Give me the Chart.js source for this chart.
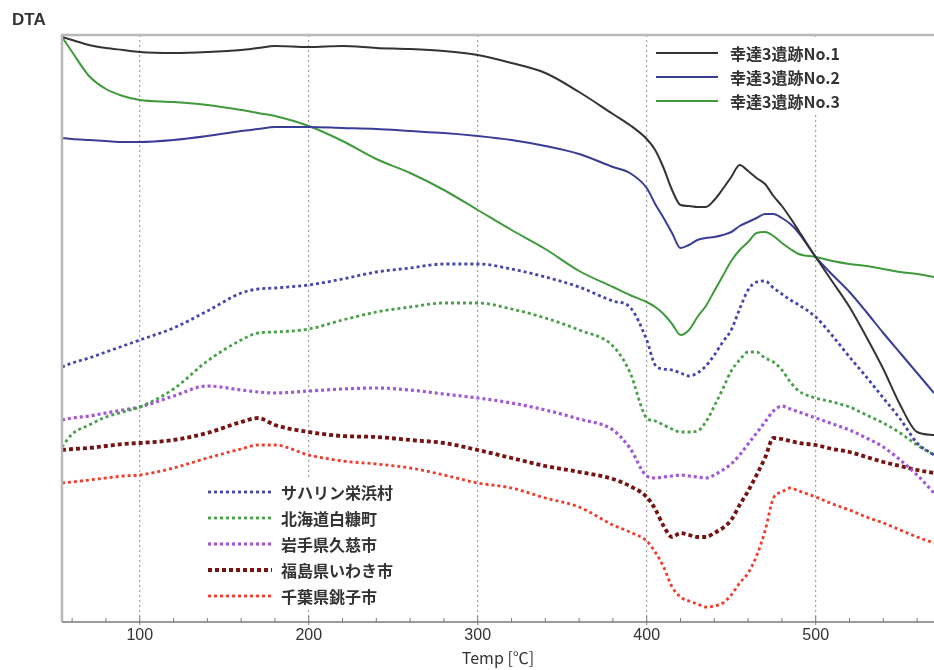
<!DOCTYPE html>
<html>
<head>
<meta charset="utf-8">
<script src="https://cdn.jsdelivr.net/npm/chart.js@4"></script>
<style>
  html, body { margin: 0; padding: 0; background: #fff; }
</style>
</head>
<body>
<canvas id="myChart" width="934" height="670"></canvas>
<script>
// temperature grid (°C)
const temps = [54, 60, 70, 80, 90, 100, 120, 140, 160, 170, 180, 200, 220, 240, 260, 280, 300,
  320, 340, 360, 380, 390, 400, 405, 410, 415, 420, 425, 430, 435, 440, 445, 450, 455, 460,
  465, 470, 475, 480, 485, 490, 500, 510, 520, 530, 540, 550, 560, 570];

// DTA readings (arbitrary units)
const no1 = [58.5, 58.2, 57.7, 57.4, 57.2, 57.0, 56.9, 57.0, 57.2, 57.4, 57.6, 57.5, 57.6, 57.4, 57.3, 57.1, 56.7,
  55.9, 54.9, 53.0, 50.8, 49.7, 48.3, 47.2, 45.4, 43.2, 41.7, 41.6, 41.5, 41.5, 42.2, 43.3, 44.5, 45.7, 45.1,
  44.4, 43.8, 42.6, 41.6, 40.4, 39.1, 36.5, 34.0, 31.5, 28.5, 25.3, 21.7, 19.0, 18.7];
const no2 = [48.4, 48.3, 48.2, 48.1, 48.0, 48.0, 48.2, 48.6, 49.1, 49.3, 49.5, 49.5, 49.4, 49.3, 49.1, 48.9, 48.6,
  48.2, 47.6, 46.8, 45.5, 44.9, 43.4, 41.8, 40.4, 38.9, 37.4, 37.7, 38.2, 38.4, 38.5, 38.7, 39.0, 39.6, 40.0,
  40.4, 40.8, 40.8, 40.4, 39.8, 38.9, 36.5, 34.7, 33.0, 31.0, 28.9, 26.9, 24.9, 22.9];
const no3 = [58.5, 57.0, 54.6, 53.3, 52.6, 52.2, 52.0, 51.7, 51.2, 50.9, 50.6, 49.6, 48.1, 46.3, 44.9, 43.2, 41.2,
  39.2, 37.3, 35.1, 33.5, 32.7, 32.0, 31.5, 30.8, 29.8, 28.7, 29.2, 30.5, 31.6, 33.1, 34.6, 36.1, 37.2, 38.0,
  38.9, 39.0, 38.6, 37.9, 37.3, 36.8, 36.5, 36.1, 35.8, 35.6, 35.3, 35.0, 34.8, 34.5];
const sakhalin = [25.5, 25.9, 26.4, 27.0, 27.6, 28.2, 29.4, 31.1, 32.9, 33.3, 33.4, 33.7, 34.3, 35.0, 35.4, 35.8, 35.8,
  35.3, 34.5, 33.5, 32.1, 31.5, 28.2, 25.7, 25.3, 25.2, 24.9, 24.6, 24.9, 25.6, 26.7, 28.0, 29.2, 31.3, 33.2,
  34.0, 34.1, 33.4, 32.8, 32.2, 31.7, 30.5, 28.6, 26.5, 24.5, 22.4, 20.3, 17.9, 16.7];
const hokkaido = [17.5, 18.8, 19.7, 20.5, 21.0, 21.5, 23.3, 26.1, 28.2, 28.9, 29.0, 29.3, 30.2, 31.0, 31.5, 31.9, 31.9,
  31.3, 30.4, 29.2, 27.6, 25.0, 20.4, 20.1, 19.7, 19.3, 19.0, 19.0, 19.1, 20.0, 21.6, 23.3, 25.1, 26.2, 27.0,
  27.0, 26.4, 26.0, 25.2, 24.0, 23.1, 22.4, 22.0, 21.5, 20.7, 19.9, 18.9, 17.7, 16.7];
const iwate = [20.2, 20.4, 20.6, 20.9, 21.2, 21.5, 22.6, 23.6, 23.2, 23.0, 22.9, 23.1, 23.3, 23.4, 23.2, 22.8, 22.4,
  21.9, 21.2, 20.3, 19.2, 17.4, 14.6, 14.4, 14.5, 14.6, 14.7, 14.6, 14.5, 14.4, 14.7, 15.2, 15.8, 16.7, 17.8,
  18.9, 20.0, 21.1, 21.6, 21.3, 21.0, 20.4, 19.8, 19.2, 18.4, 17.5, 16.2, 14.7, 12.9];
const fukushima = [17.2, 17.3, 17.4, 17.6, 17.8, 17.9, 18.2, 18.9, 20.0, 20.4, 19.7, 19.0, 18.6, 18.5, 18.2, 17.9, 17.2,
  16.4, 15.6, 15.0, 14.3, 13.6, 12.5, 11.3, 9.6, 8.5, 8.9, 8.7, 8.5, 8.5, 8.9, 9.4, 10.2, 11.7, 13.1,
  14.7, 16.4, 18.4, 18.3, 18.1, 17.9, 17.7, 17.3, 17.0, 16.5, 16.0, 15.6, 15.2, 14.9];
const chiba = [13.9, 14.0, 14.2, 14.4, 14.6, 14.7, 15.4, 16.4, 17.3, 17.7, 17.7, 16.7, 16.1, 15.8, 15.4, 14.7, 13.9,
  13.4, 12.4, 11.5, 9.7, 9.0, 8.1, 7.0, 5.5, 3.5, 2.5, 2.1, 1.8, 1.5, 1.6, 1.9, 2.7, 3.9, 4.9,
  6.6, 9.1, 12.4, 13.0, 13.4, 13.1, 12.5, 11.8, 11.2, 10.5, 9.9, 9.2, 8.5, 7.9];

const seriesNames = ['幸達3遺跡No.1', '幸達3遺跡No.2', '幸達3遺跡No.3',
  'サハリン栄浜村', '北海道白糠町', '岩手県久慈市', '福島県いわき市', '千葉県銚子市'];
const xTicks = [100, 200, 300, 400, 500];

const FONT = '"Noto Sans CJK JP", "Liberation Sans", sans-serif';

function series(vals, i, color, width, dash) {
  return {
    label: seriesNames[i],
    data: temps.map((t, k) => ({ x: t, y: vals[k] })),
    borderColor: color,
    borderWidth: width,
    borderDash: dash || [],
    pointRadius: 0,
    fill: false,
    cubicInterpolationMode: 'monotone'
  };
}

function drawLegend(chart, idx, box, x0, x1, tx, y0, dy) {
  const ctx = chart.ctx;
  ctx.fillStyle = '#fff';
  ctx.fillRect(box[0], box[1], box[2], box[3]);
  ctx.font = 'bold 16px ' + FONT;
  ctx.textBaseline = 'middle';
  idx.forEach((di, r) => {
    const ds = chart.data.datasets[di];
    const y = y0 + r * dy;
    ctx.strokeStyle = ds.borderColor;
    ctx.lineWidth = ds.borderWidth;
    ctx.setLineDash(ds.borderDash);
    ctx.beginPath();
    ctx.moveTo(x0, y);
    ctx.lineTo(x1, y);
    ctx.stroke();
    ctx.setLineDash([]);
    ctx.fillStyle = '#333';
    ctx.fillText(ds.label, tx, y + 1);
  });
}

const extras = {
  id: 'extras',
  afterDatasetsDraw(chart) {
    const { ctx, chartArea: a, scales: { x } } = chart;
    ctx.save();
    // frame
    ctx.strokeStyle = '#b8b8b8';
    ctx.lineWidth = 2.5;
    ctx.beginPath();
    ctx.moveTo(a.left, a.bottom);
    ctx.lineTo(a.left, a.top);
    ctx.lineTo(a.right, a.top);
    ctx.stroke();
    ctx.strokeStyle = '#7a7a7a';
    ctx.lineWidth = 1.5;
    ctx.beginPath();
    ctx.moveTo(a.left, a.bottom);
    ctx.lineTo(a.right, a.bottom);
    ctx.stroke();
    // minor ticks every 20
    ctx.lineWidth = 1;
    for (let t = 60; t <= x.max; t += 20) {
      const px = x.getPixelForValue(t);
      const major = t % 100 === 0;
      ctx.beginPath();
      ctx.moveTo(px, a.bottom + (major ? 3 : 0));
      ctx.lineTo(px, a.bottom - (major ? 6 : 4));
      ctx.stroke();
    }
    drawLegend(chart, [0, 1, 2], [648, 40, 220, 72], 656, 718, 730, 53, 24);
    drawLegend(chart, [3, 4, 5, 6, 7], [204, 480, 205, 128], 208, 272, 281, 492, 26);
    // y label
    ctx.fillStyle = '#333';
    ctx.font = 'bold 17px "Liberation Sans", Arial, sans-serif';
    ctx.textBaseline = 'middle';
    ctx.fillText('DTA', 12, 20);
    ctx.restore();
  }
};

const ctx = document.getElementById('myChart').getContext('2d');
const myChart = new Chart(ctx, {
  type: 'line',
  data: {
    datasets: [
      series(no1, 0, '#333333', 2),
      series(no2, 1, '#3a3d98', 2),
      series(no3, 2, '#3f9a3c', 2),
      series(sakhalin, 3, '#4646aa', 2.8, [3, 3]),
      series(hokkaido, 4, '#48a048', 2.8, [3, 3]),
      series(iwate, 5, '#a257d8', 3.2, [3, 3]),
      series(fukushima, 6, '#761414', 3.8, [4, 3]),
      series(chiba, 7, '#f03c2c', 2.8, [3, 3])
    ]
  },
  options: {
    responsive: false,
    animation: false,
    layout: { padding: { top: 35, left: 0, right: 0, bottom: 0 } },
    plugins: { legend: { display: false }, tooltip: { enabled: false } },
    scales: {
      x: {
        type: 'linear',
        min: 54,
        max: 570,
        afterBuildTicks: s => { s.ticks = xTicks.map(v => ({ value: v })); },
        afterFit: s => { s.height = 48; },
        grid: { color: '#a0a0a0', lineWidth: 1.2, drawTicks: false },
        border: { display: false, dash: [2, 3] },
        ticks: {
          padding: 4,
          color: '#333',
          maxRotation: 0,
          font: { size: 16, family: '"Liberation Sans", Arial, sans-serif' }
        },
        title: {
          display: true,
          text: 'Temp [℃]',
          color: '#333',
          padding: { top: 0, bottom: 2 },
          font: { size: 16, family: FONT }
        }
      },
      y: {
        min: 0,
        max: 58.7,
        afterFit: s => { s.width = 62; },
        ticks: { display: false },
        grid: { display: false },
        border: { display: false }
      }
    }
  },
  plugins: [extras]
});
</script>
</body>
</html>
